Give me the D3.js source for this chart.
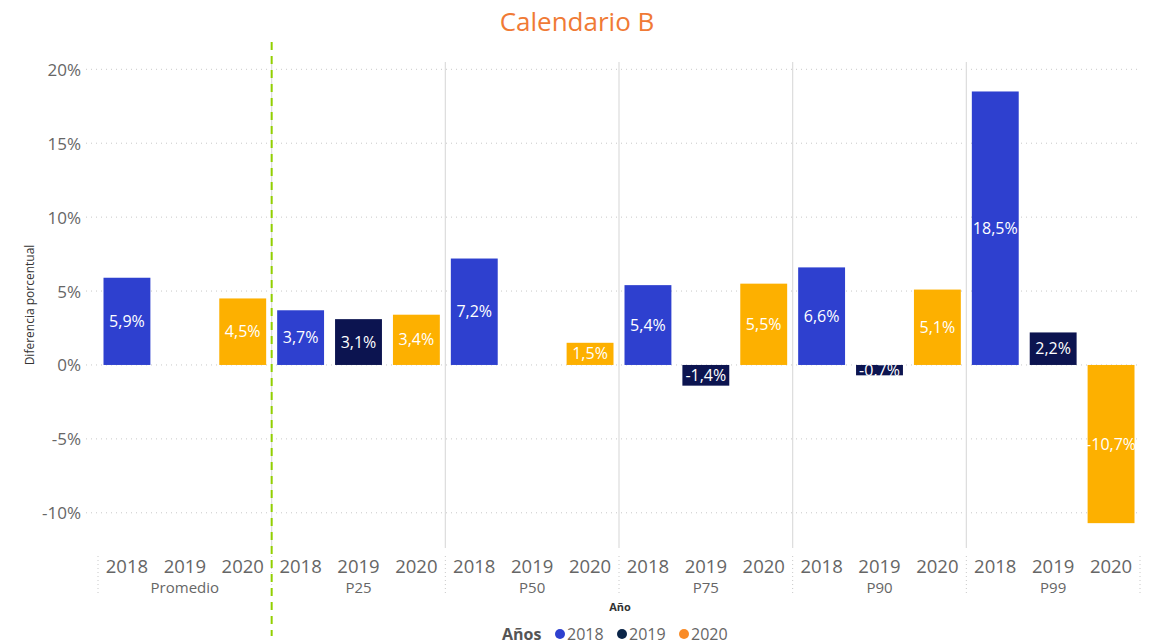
<!DOCTYPE html>
<html>
<head>
<meta charset="utf-8">
<script src="https://cdn.jsdelivr.net/npm/d3@7"></script>
<style>
  body { margin: 0; background: #fff; }
  svg { display: block; font-family: "Segoe UI", "Open Sans", "Noto Sans", sans-serif; }
</style>
</head>
<body>
<svg id="chart" width="1153" height="644"></svg>
<script>
// Grouped bars: percentage difference by statistic and year
const groups = ["Promedio", "P25", "P50", "P75", "P90", "P99"];
const years = ["2018", "2019", "2020"];
const values2018 = [5.9, 3.7, 7.2, 5.4, 6.6, 18.5];
const values2019 = [null, 3.1, null, -1.4, -0.7, 2.2];
const values2020 = [4.5, 3.4, 1.5, 5.5, 5.1, -10.7];
const yTicks = [-10, -5, 0, 5, 10, 15, 20];

const barColors = { "2018": "#2e40cf", "2019": "#0c1450", "2020": "#fdb000" };
const legendColors = { "2018": "#2e40cf", "2019": "#0b2548", "2020": "#f98b26" };

const series = { "2018": values2018, "2019": values2019, "2020": values2020 };
const data = [];
groups.forEach((g, i) => years.forEach(yr => {
  const v = series[yr][i];
  if (v !== null) data.push({ group: g, year: yr, value: v });
}));

const pct = v => d3.format(".1f")(v).replace(".", ",").replace("\u2212", "-") + "%";

const svg = d3.select("#chart");
const left = 98, right = 1140;

const x0 = d3.scaleBand().domain(groups).range([left, right]);
const x1 = d3.scaleBand().domain(years).range([0, x0.bandwidth()])
  .paddingInner(0.19).paddingOuter(0.095);
const y = d3.scaleLinear().domain([-10, 20]).range([512.8, 69.3]);

// Title
svg.append("text").attr("x", 577).attr("y", 31).attr("text-anchor", "middle")
  .attr("font-size", 26).attr("fill", "#f07a35").text("Calendario B");

// Horizontal dotted gridlines
svg.append("g").selectAll("line").data(yTicks).join("line")
  .attr("x1", 86).attr("x2", right)
  .attr("y1", d => y(d)).attr("y2", d => y(d))
  .attr("stroke", "#c8c8c8").attr("stroke-width", 1).attr("stroke-dasharray", "1,4");

// Y axis tick labels
const yAxis = d3.axisLeft(y).tickValues(yTicks).tickSize(0).tickPadding(0)
  .tickFormat(d => d + "%");
const gy = svg.append("g").attr("transform", "translate(81,0)").call(yAxis);
gy.select(".domain").remove();
gy.selectAll("text").attr("font-size", 17).attr("fill", "#666")
  .attr("font-family", "\"Segoe UI\", \"Open Sans\", sans-serif").attr("dy", "0.35em");

// Y axis title
svg.append("text").attr("transform", "translate(34,305) rotate(-90)")
  .attr("text-anchor", "middle").attr("font-size", 12).attr("fill", "#333")
  .text("Diferencia porcentual");

// Group separators in the plot area
svg.append("g").selectAll("line").data(groups.slice(1)).join("line")
  .attr("x1", d => x0(d)).attr("x2", d => x0(d))
  .attr("y1", 62).attr("y2", 548)
  .attr("stroke", "#dcdcdc").attr("stroke-width", 1.2);

// Group separators in the axis area (dotted)
svg.append("g").selectAll("line").data(groups.concat(["end"])).join("line")
  .attr("x1", d => d === "end" ? right : x0(d)).attr("x2", d => d === "end" ? right : x0(d))
  .attr("y1", 556).attr("y2", 596)
  .attr("stroke", "#c8c8c8").attr("stroke-dasharray", "1,3");

// Bars
const bars = svg.append("g").selectAll("g").data(data).join("g")
  .attr("transform", d => `translate(${x0(d.group) + x1(d.year)},0)`);
bars.append("rect")
  .attr("x", 0).attr("width", x1.bandwidth())
  .attr("y", d => y(Math.max(0, d.value)))
  .attr("height", d => Math.abs(y(d.value) - y(0)))
  .attr("fill", d => barColors[d.year]);

// Value labels, centered in each bar
bars.append("text")
  .attr("x", x1.bandwidth() / 2)
  .attr("y", d => (y(d.value) + y(0)) / 2)
  .attr("dy", "0.35em").attr("text-anchor", "middle")
  .attr("font-size", 16).attr("fill", "#fff")
  .text(d => pct(d.value));

// Year tick labels and group labels
const xTicks = svg.append("g");
groups.forEach(g => {
  years.forEach(yr => {
    xTicks.append("text")
      .attr("x", x0(g) + x1(yr) + x1.bandwidth() / 2).attr("y", 573)
      .attr("text-anchor", "middle").attr("font-size", 18.5).attr("fill", "#666")
      .text(yr);
  });
  xTicks.append("text")
    .attr("x", x0(g) + x0.bandwidth() / 2).attr("y", 593)
    .attr("text-anchor", "middle").attr("font-size", 15).attr("fill", "#666")
    .text(g);
});

// X axis title
svg.append("text").attr("x", 620).attr("y", 611).attr("text-anchor", "middle")
  .attr("font-size", 11).attr("font-weight", "bold").attr("fill", "#333").text("Año");

// Reference line separating the average from the percentiles
svg.append("line")
  .attr("x1", x0("P25")).attr("x2", x0("P25"))
  .attr("y1", 42).attr("y2", 636)
  .attr("stroke", "#92d000").attr("stroke-width", 2).attr("stroke-dasharray", "8,6");

// Legend
const legend = svg.append("g").attr("transform", "translate(0,634)");
legend.append("text").attr("x", 502).attr("y", 6).attr("font-size", 16)
  .attr("font-weight", "bold").attr("fill", "#555").text("Años");
const legendX = [560, 622, 684];
years.forEach((yr, i) => {
  legend.append("circle").attr("cx", legendX[i]).attr("cy", 0).attr("r", 5)
    .attr("fill", legendColors[yr]);
  legend.append("text").attr("x", legendX[i] + 7).attr("y", 6)
    .attr("font-size", 16).attr("fill", "#666").text(yr);
});
</script>
</body>
</html>
